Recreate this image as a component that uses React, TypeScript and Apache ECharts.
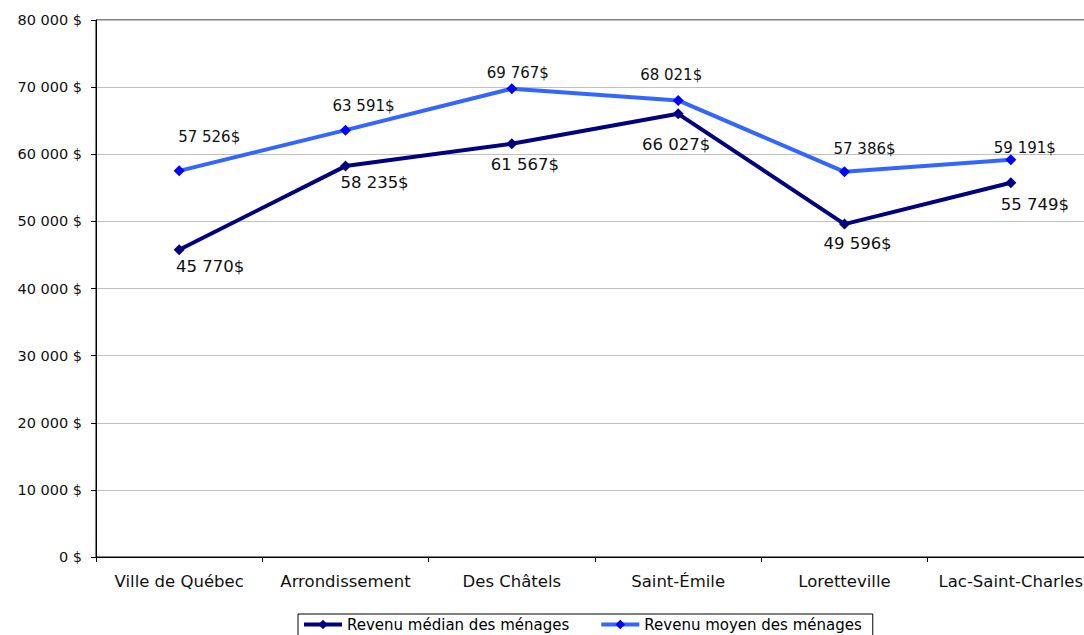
import React, { useEffect, useRef } from "react";
import * as echarts from "echarts";

// Secteurs comparés
const categories = [
  "Ville de Québec",
  "Arrondissement",
  "Des Châtels",
  "Saint-Émile",
  "Loretteville",
  "Lac-Saint-Charles",
];

// Revenus des ménages ($)
const medianIncome = [45770, 58235, 61567, 66027, 49596, 55749];
const meanIncome = [57526, 63591, 69767, 68021, 57386, 59191];

// Axe des valeurs
const yTicks = [0, 10000, 20000, 30000, 40000, 50000, 60000, 70000, 80000];

// Décalage des étiquettes par rapport au point (px)
const medianLabelOffsets = [
  [31, 17],
  [29, 16],
  [13, 21],
  [-2, 31],
  [13, 19],
  [24, 22],
];
const meanLabelOffsets = [
  [30, -34],
  [18, -24],
  [6, -16],
  [-7, -25],
  [20, -23],
  [14, -12],
];

const FONT = "'DejaVu Sans', Verdana, sans-serif";

const fmtThousands = (v: number) =>
  String(v).replace(/\B(?=(\d{3})+(?!\d))/g, " ");

export default function App() {
  const ref = useRef<HTMLDivElement>(null);

  useEffect(() => {
    document.body.style.margin = "0";
    document.body.style.overflow = "hidden";
    if (!ref.current) return;
    const chart = echarts.init(ref.current, undefined, { renderer: "svg" });

    const buildData = (
      values: number[],
      offsets: number[][],
      fontSize: number
    ) =>
      values.map((v, i) => ({
        value: v,
        label: {
          show: true,
          position: "inside",
          offset: offsets[i],
          formatter: fmtThousands(v) + "$",
          color: "#111",
          fontFamily: FONT,
          fontSize,
        },
      }));

    chart.setOption({
      animation: false,
      backgroundColor: "#fff",
      textStyle: { fontFamily: FONT },
      grid: {
        left: 96,
        top: 20,
        width: 998,
        height: 537,
        show: true,
        borderColor: "#000",
        borderWidth: 1,
        backgroundColor: "transparent",
      },
      legend: {
        left: 298,
        top: 614,
        borderColor: "#000",
        borderWidth: 1,
        borderRadius: 0,
        padding: [3, 11, 10, 4],
        itemGap: 30,
        itemWidth: 38,
        itemHeight: 12,
        lineStyle: { width: 4 },
        textStyle: { fontFamily: FONT, fontSize: 15, color: "#000" },
        data: ["Revenu médian des ménages", "Revenu moyen des ménages"],
      },
      xAxis: {
        type: "category",
        data: categories,
        boundaryGap: true,
        axisLine: { lineStyle: { color: "#000", width: 1 } },
        axisTick: { show: true, length: 5, lineStyle: { color: "#000" } },
        axisLabel: {
          color: "#111",
          fontFamily: FONT,
          fontSize: 16.5,
          margin: 16,
          interval: 0,
        },
      },
      yAxis: {
        type: "value",
        min: yTicks[0],
        max: yTicks[yTicks.length - 1],
        interval: yTicks[1] - yTicks[0],
        axisLine: { show: true, lineStyle: { color: "#000", width: 1 } },
        axisTick: { show: true, length: 5, lineStyle: { color: "#000" } },
        splitLine: { show: true, lineStyle: { color: "#c0c0c0", width: 1 } },
        axisLabel: {
          color: "#111",
          fontFamily: FONT,
          fontSize: 14.5,
          margin: 14,
          formatter: (v: number) => fmtThousands(v) + " $",
        },
      },
      series: [
        {
          name: "Revenu médian des ménages",
          type: "line",
          data: buildData(medianIncome, medianLabelOffsets, 16.5),
          symbol: "diamond",
          symbolSize: 11,
          lineStyle: { color: "#000080", width: 4 },
          itemStyle: { color: "#000080" },
          z: 3,
        },
        {
          name: "Revenu moyen des ménages",
          type: "line",
          data: buildData(meanIncome, meanLabelOffsets, 15),
          symbol: "diamond",
          symbolSize: 11,
          lineStyle: { color: "#3366ff", width: 4 },
          itemStyle: { color: "#0000ff" },
          z: 2,
        },
      ],
    });

    return () => chart.dispose();
  }, []);

  return <div ref={ref} style={{ width: 1100, height: 635 }} />;
}
